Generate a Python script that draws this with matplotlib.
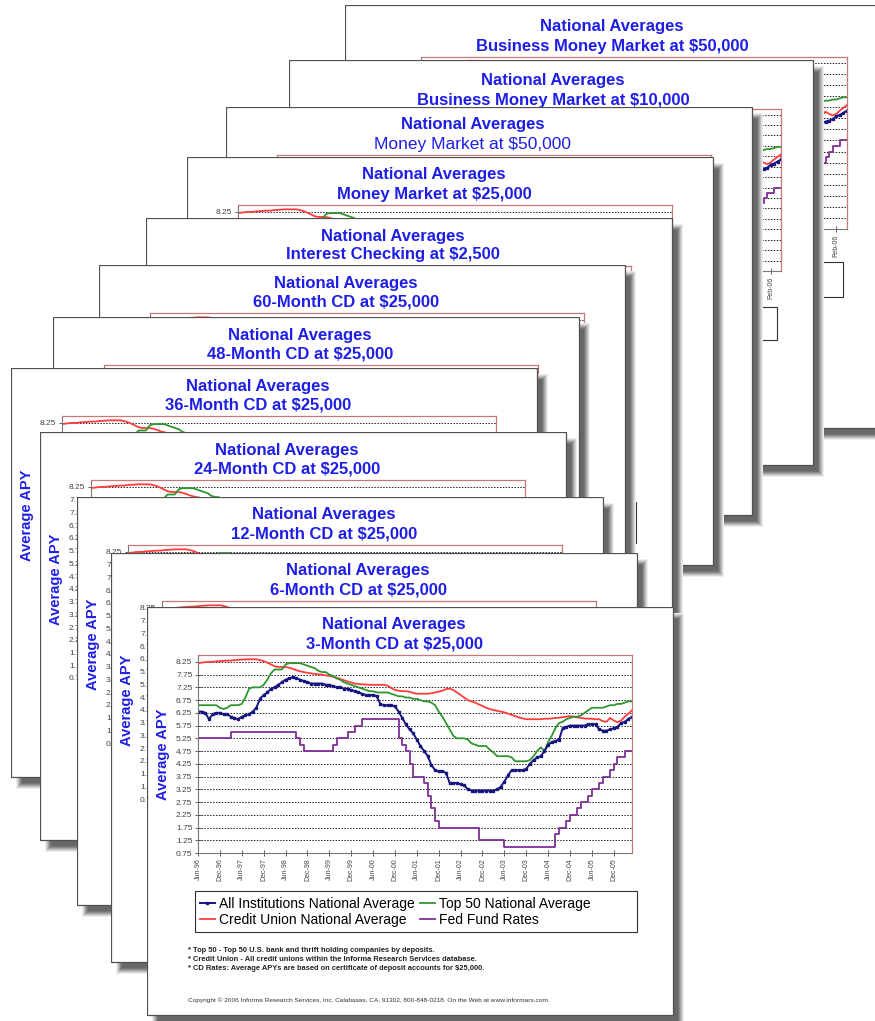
import numpy as np
import matplotlib
matplotlib.use("Agg")
import matplotlib.pyplot as plt
from matplotlib.patches import Rectangle

plt.rcParams['font.family'] = ['Liberation Sans', 'DejaVu Sans']

FIG_W, FIG_H = 875, 1021

date_labels = ["Jun-96", "Dec-96", "Jun-97", "Dec-97", "Jun-98", "Dec-98", "Jun-99",
               "Dec-99", "Jun-00", "Dec-00", "Jun-01", "Dec-01", "Jun-02", "Dec-02",
               "Jun-03", "Dec-03", "Jun-04", "Dec-04", "Jun-05", "Dec-05"]
biz_date_labels = ["Jun-96", "Oct-96", "Feb-97", "Jun-97", "Oct-97", "Feb-98", "Jun-98",
                   "Oct-98", "Feb-99", "Jun-99", "Oct-99", "Feb-00", "Jun-00", "Oct-00",
                   "Feb-01", "Jun-01", "Oct-01", "Feb-02", "Jun-02", "Oct-02", "Feb-03",
                   "Jun-03", "Oct-03", "Feb-04", "Jun-04", "Oct-04", "Feb-05", "Jun-05",
                   "Oct-05", "Feb-06"]
apy_ticks = [8.25, 7.75, 7.25, 6.75, 6.25, 5.75, 5.25, 4.75, 4.25, 3.75,
             3.25, 2.75, 2.25, 1.75, 1.25, 0.75]

# monthly values, Jun-96 .. May-06
all_inst = [6.30, 6.30, 6.25, 6.00, 6.20, 6.25, 6.25, 6.20, 6.20, 6.10, 6.05, 6.00,
            6.10, 6.15, 6.20, 6.30, 6.45, 6.80, 6.95, 7.05, 7.20, 7.25, 7.35, 7.45,
            7.55, 7.60, 7.65, 7.60, 7.55, 7.50, 7.45, 7.40, 7.40, 7.40, 7.40, 7.35,
            7.35, 7.30, 7.25, 7.25, 7.20, 7.20, 7.15, 7.10, 7.05, 7.00, 6.95, 6.95,
            6.95, 6.90, 6.60, 6.55, 6.55, 6.55, 6.50, 6.30, 6.05, 5.80, 5.60, 5.45,
            5.20, 4.95, 4.75, 4.55, 4.20, 4.00, 3.95, 3.95, 3.90, 3.50, 3.50, 3.50,
            3.45, 3.40, 3.25, 3.20, 3.20, 3.20, 3.20, 3.20, 3.20, 3.20, 3.25, 3.35,
            3.55, 3.80, 4.00, 4.00, 4.00, 4.00, 4.05, 4.25, 4.40, 4.50, 4.55, 4.75,
            5.00, 5.10, 5.15, 5.20, 5.65, 5.70, 5.75, 5.75, 5.75, 5.75, 5.75, 5.80,
            5.80, 5.80, 5.60, 5.55, 5.55, 5.60, 5.65, 5.70, 5.85, 5.90, 6.00, 6.10]

top50 = [6.55, 6.55, 6.55, 6.55, 6.55, 6.55, 6.45, 6.40, 6.45, 6.55, 6.55, 6.55,
         6.60, 6.85, 7.20, 7.25, 7.25, 7.25, 7.35, 7.55, 7.80, 7.95, 7.95, 7.95,
         8.15, 8.20, 8.20, 8.20, 8.20, 8.15, 8.10, 8.05, 8.00, 7.90, 7.85, 7.85,
         7.75, 7.70, 7.60, 7.55, 7.45, 7.40, 7.35, 7.30, 7.25, 7.20, 7.15, 7.10,
         7.10, 7.05, 7.05, 7.05, 7.05, 7.00, 6.95, 6.90, 6.90, 6.85, 6.85, 6.80,
         6.80, 6.75, 6.70, 6.70, 6.65, 6.55, 6.30, 6.10, 5.85, 5.60, 5.35, 5.25,
         5.25, 5.25, 5.20, 5.05, 5.00, 4.95, 4.95, 4.95, 4.80, 4.70, 4.55, 4.55,
         4.55, 4.55, 4.50, 4.35, 4.35, 4.35, 4.35, 4.40, 4.55, 4.75, 4.90, 4.75,
         5.10, 5.35, 5.65, 5.85, 5.90, 6.00, 6.05, 6.10, 6.10, 6.15, 6.25, 6.35,
         6.45, 6.45, 6.45, 6.45, 6.50, 6.55, 6.55, 6.60, 6.60, 6.65, 6.70, 6.70]

credit_union = [8.20, 8.22, 8.24, 8.25, 8.25, 8.27, 8.28, 8.29, 8.30, 8.30, 8.32, 8.33,
                8.34, 8.35, 8.35, 8.35, 8.35, 8.32, 8.28, 8.22, 8.15, 8.08, 8.05, 8.05,
                8.05, 8.02, 7.98, 7.92, 7.88, 7.85, 7.82, 7.80, 7.78, 7.76, 7.75, 7.72,
                7.70, 7.67, 7.63, 7.58, 7.53, 7.48, 7.44, 7.40, 7.38, 7.37, 7.36, 7.35,
                7.35, 7.35, 7.35, 7.35, 7.32, 7.22, 7.15, 7.12, 7.10, 7.10, 7.08, 7.03,
                7.00, 7.00, 7.00, 7.00, 7.02, 7.05, 7.08, 7.12, 7.18, 7.20, 7.15, 7.05,
                6.95, 6.85, 6.75, 6.70, 6.65, 6.58, 6.52, 6.45, 6.40, 6.36, 6.33, 6.30,
                6.27, 6.22, 6.17, 6.12, 6.07, 6.03, 6.00, 6.00, 6.00, 6.00, 6.00, 6.02,
                6.02, 6.03, 6.05, 6.06, 6.08, 6.10, 6.12, 6.10, 6.07, 6.05, 6.03, 6.02,
                6.02, 6.00, 6.00, 5.92, 5.90, 6.05, 5.95, 5.88, 5.95, 6.10, 6.22, 6.35]

fed_funds = [5.25, 5.25, 5.25, 5.25, 5.25, 5.25, 5.25, 5.25, 5.25, 5.50, 5.50, 5.50,
             5.50, 5.50, 5.50, 5.50, 5.50, 5.50, 5.50, 5.50, 5.50, 5.50, 5.50, 5.50,
             5.50, 5.50, 5.50, 5.25, 5.00, 4.75, 4.75, 4.75, 4.75, 4.75, 4.75, 4.75,
             4.75, 5.00, 5.25, 5.25, 5.25, 5.50, 5.50, 5.75, 5.75, 6.00, 6.00, 6.00,
             6.00, 6.00, 6.00, 6.00, 6.00, 6.00, 6.00, 5.25, 5.00, 4.75, 4.25, 3.75,
             3.75, 3.75, 3.50, 3.00, 2.50, 2.00, 1.75, 1.75, 1.75, 1.75, 1.75, 1.75,
             1.75, 1.75, 1.75, 1.75, 1.75, 1.25, 1.25, 1.25, 1.25, 1.25, 1.25, 1.25,
             1.00, 1.00, 1.00, 1.00, 1.00, 1.00, 1.00, 1.00, 1.00, 1.00, 1.00, 1.00,
             1.00, 1.00, 1.50, 1.75, 1.75, 2.00, 2.25, 2.25, 2.50, 2.75, 2.75, 3.00,
             3.25, 3.25, 3.50, 3.75, 3.75, 4.00, 4.25, 4.50, 4.50, 4.75, 4.75, 4.75]

series_names = ["All Institutions National Average", "Top 50 National Average",
                "Credit Union National Average", "Fed Fund Rates"]

page_titles = ["Business Money Market at $50,000", "Business Money Market at $10,000",
               "Money Market at $50,000", "Money Market at $25,000",
               "Interest Checking at $2,500", "60-Month CD at $25,000",
               "48-Month CD at $25,000", "36-Month CD at $25,000",
               "24-Month CD at $25,000", "12-Month CD at $25,000",
               "6-Month CD at $25,000", "3-Month CD at $25,000"]
title_bold = [True, True, False, True, True, True, True, True, True, True, True, True]

footnotes = ["* Top 50 - Top 50 U.S. bank and thrift holding companies by deposits.",
             "* Credit Union - All credit unions within the Informa Research Services database.",
             "* CD Rates: Average APYs are based on certificate of deposit accounts for $25,000."]
copyright_line = ("Copyright \u00a9 2006 Informa Research Services, Inc. Calabasas, CA, 91302, "
                  "800-848-0218. On the Web at www.informars.com.")

# page sheets in pixels (left, top, right, bottom), back to front
page_boxes = [(345, 5, 879, 428), (289, 60, 813, 465), (226, 107, 752, 515),
              (187, 157, 713, 565), (146, 218, 672, 626), (99, 265, 625, 673),
              (53, 317, 579, 725), (11, 368, 537, 777), (40, 432, 566, 840),
              (77, 497, 603, 905), (111, 553, 637, 962), (147, 607, 673, 1015)]

# inner layout: title x, title y, plot left, plot top, plot right margin,
# plot bottom, legend top, legend bottom, legend overhang, business-style ticks
std_layout = (247, 18, 51, 48, 41, 246, 284, 325, 8, False)
page_layouts = [(267, 22, 76, 52, 32, 224, 257, 292, -1, True),
                (264, 21, 76, 49, 32, 211, 247, 280, -1, True)] + [std_layout] * 10

navy, green, red, purple = "#15157f", "#2f952f", "#ff3c3c", "#7e3096"
title_blue = "#1e1ee6"
shadow_shades = ["#ededed", "#d8d8d8", "#bfbfbf", "#a4a4a4", "#8a8a8a", "#767676", "#686868"]

months = np.arange(len(all_inst))

fig = plt.figure(figsize=(FIG_W / 100, FIG_H / 100), dpi=100)
fig.patch.set_facecolor("white")


def add_page(i, title, bold, box, layout):
    left, top, right, bottom = box
    tx, ty, pl, pt, pr, pb, lt, lb, lx, biz = layout
    pw, ph = right - left, bottom - top
    plot_w = pw - pl - pr
    plot_h = pb - pt
    pad = 18
    pax = fig.add_axes([left / FIG_W, 1 - (bottom + pad) / FIG_H,
                        (pw + pad) / FIG_W, (ph + pad) / FIG_H])
    pax.set_xlim(0, pw + pad)
    pax.set_ylim(ph + pad, 0)
    pax.axis("off")
    pax.set_zorder(2 * i)

    # soft drop shadow, opaque so the sheet behind is hidden
    for grow, shade in zip([3, 2, 1, 0, -1, -2, -3], shadow_shades):
        pax.add_patch(Rectangle((8 - grow, 9 - grow), pw + 2 * grow, ph + 2 * grow,
                                facecolor=shade, edgecolor="none"))
    pax.add_patch(Rectangle((0, 0), pw, ph, facecolor="white",
                            edgecolor="#505050", lw=0.9))

    pax.text(tx, ty, "National Averages", ha="center", va="center", fontsize=12,
             fontweight="bold", color=title_blue)
    pax.text(tx, ty + 19, title, ha="center", va="center",
             fontsize=12 if bold else 12.5,
             fontweight="bold" if bold else "normal", color=title_blue)
    pax.text(16, pt + plot_h / 2, "Average APY", rotation=90, ha="center",
             va="center", fontsize=10.5, fontweight="bold", color=title_blue)

    # legend frame
    pax.add_patch(Rectangle((pl - 3, lt), plot_w + lx, lb - lt, facecolor="white",
                            edgecolor="#303030", lw=0.8))
    for k, note in enumerate(footnotes):
        pax.text(41, lb + 19 + 8.5 * k, note, fontsize=5.4, fontweight="bold",
                 va="center", color="#222222")
    pax.text(41, ph - 15, copyright_line, fontsize=4.65, va="center", color="#333333")

    ax = fig.add_axes([(left + pl) / FIG_W, 1 - (top + pb) / FIG_H,
                       plot_w / FIG_W, plot_h / FIG_H])
    ax.set_zorder(2 * i + 1)
    l_cu, = ax.plot(months, credit_union, color=red, lw=1.3)
    l_t50, = ax.plot(months, top50, color=green, lw=1.3)
    l_ff, = ax.step(months, fed_funds, where="post", color=purple, lw=1.3)
    l_ai, = ax.plot(months, all_inst, color=navy, lw=1.4, marker="s", ms=1.6)

    labels = biz_date_labels if biz else date_labels
    step = 4 if biz else 6
    ax.set_xlim(0, months[-1])
    ax.set_ylim(0.75, 8.52)
    ax.set_yticks(apy_ticks)
    ax.set_yticklabels([f"{v:.2f}" for v in apy_ticks])
    ax.set_xticks(months[::step][:len(labels)])
    ax.set_xticklabels(labels, rotation=90)
    ax.yaxis.grid(True, linestyle=(0, (1.5, 1.5)), color="#222222", lw=0.7)
    ax.tick_params(axis="y", labelsize=6, direction="inout", length=4, width=0.6,
                   colors="#444444", pad=2)
    ax.tick_params(axis="x", labelsize=5, direction="inout", length=4, width=0.6,
                   colors="#444444", pad=2)
    for side in ["left", "bottom"]:
        ax.spines[side].set_color("#777777")
        ax.spines[side].set_linewidth(0.8)
    for side in ["top", "right"]:
        ax.spines[side].set_color("#c87878")
        ax.spines[side].set_linewidth(0.9)

    ax.legend([l_ai, l_cu, l_t50, l_ff],
              [series_names[0], series_names[2], series_names[1], series_names[3]],
              ncol=2, frameon=False, loc="upper left",
              bbox_to_anchor=(-1 / plot_w, 1 - (lt + 3 - pt) / plot_h),
              fontsize=10 * (lb - lt) / 41, handlelength=1.1, handletextpad=0.25,
              columnspacing=0.4, labelspacing=0.15, borderpad=0.2,
              borderaxespad=0)


for i, (title, bold, box, layout) in enumerate(zip(page_titles, title_bold,
                                                   page_boxes, page_layouts)):
    add_page(i, title, bold, box, layout)

fig.savefig("out.png", dpi=100, facecolor="white")
